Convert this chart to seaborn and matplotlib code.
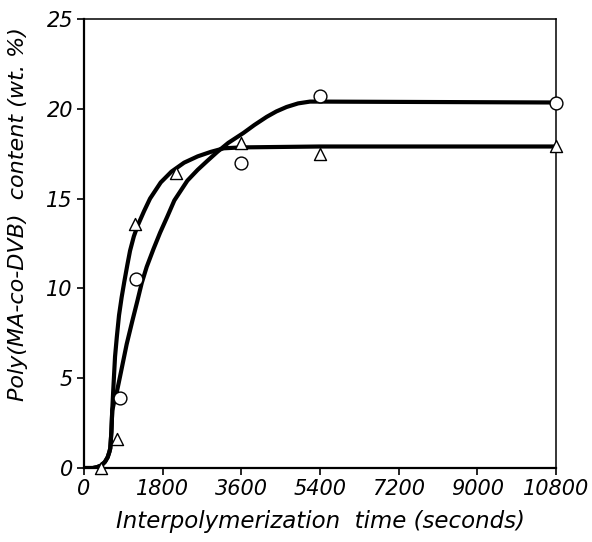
import numpy as np
import pandas as pd
import matplotlib
matplotlib.use("Agg")
import matplotlib.pyplot as plt
import seaborn as sns

tiempo_circ = [820, 1190, 3600, 5400, 10800]
valor_circ = [3.9, 10.5, 17.0, 20.7, 20.3]

tiempo_tri = [390, 760, 1170, 2100, 3600, 5400, 10800]
valor_tri = [0.0, 1.6, 13.6, 16.4, 18.1, 17.5, 17.9]

# Curvas ajustadas (trazadas a mano sobre la figura)
curva_tri_t = [0, 200, 300, 400, 480, 540, 580, 600, 625, 645, 665, 709, 750, 800,
               860, 923, 990, 1053, 1140, 1228, 1373, 1510, 1755, 2000, 2290,
               2600, 2900, 3200, 3600, 5400, 10800]
curva_tri_y = [0, 0, 0.05, 0.15, 0.35, 0.6, 0.9, 1.1, 2.0, 3.2, 4.2, 6.2, 7.3, 8.5,
               9.5, 10.4, 11.3, 12.1, 12.9, 13.5, 14.3, 15.0, 15.9, 16.5, 17.0,
               17.35, 17.6, 17.8, 17.85, 17.9, 17.9]

curva_circ_t = [0, 200, 300, 400, 480, 540, 580, 600, 625, 645, 700, 747, 824, 900,
                976, 1106, 1220, 1320, 1434, 1590, 1740, 1906, 2067, 2365, 2600,
                2822, 3050, 3300, 3646, 3900, 4180, 4400, 4636, 4900, 5172, 5400, 10800]
curva_circ_y = [0, 0, 0.05, 0.15, 0.35, 0.6, 0.9, 1.1, 2.0, 3.2, 3.8, 4.2, 5.1, 6.0,
                6.9, 8.2, 9.3, 10.3, 11.2, 12.2, 13.1, 14.0, 14.9, 16.0, 16.6,
                17.1, 17.6, 18.1, 18.65, 19.1, 19.55, 19.85, 20.1, 20.3, 20.4, 20.4, 20.35]

ticks_x = [0, 1800, 3600, 5400, 7200, 9000, 10800]
ticks_y = [0, 5, 10, 15, 20, 25]

sns.set_style("ticks")
plt.rcParams['font.family'] = ['DejaVu Sans']
plt.rcParams['text.color'] = 'black'
plt.rcParams['axes.labelcolor'] = 'black'

fig = plt.figure(figsize=(5.92, 5.42), dpi=100)
ax = fig.add_axes([0.142, 0.1365, 0.797, 0.8285])

df_tri = pd.DataFrame({'t': curva_tri_t, 'y': curva_tri_y})
df_circ = pd.DataFrame({'t': curva_circ_t, 'y': curva_circ_y})

sns.lineplot(data=df_tri, x='t', y='y', color='black', linewidth=3.0, ax=ax,
             sort=False, estimator=None, solid_capstyle='round', solid_joinstyle='round')
sns.lineplot(data=df_circ, x='t', y='y', color='black', linewidth=3.0, ax=ax,
             sort=False, estimator=None, solid_capstyle='round', solid_joinstyle='round')

sns.scatterplot(x=tiempo_circ, y=valor_circ, marker='o', s=85, facecolor='white',
                edgecolor='black', linewidth=1.0, ax=ax, clip_on=False, zorder=5)
sns.scatterplot(x=tiempo_tri, y=valor_tri, marker='^', s=75, facecolor='white',
                edgecolor='black', linewidth=1.0, ax=ax, clip_on=False, zorder=5)

ax.set_xlim(0, 10800)
ax.set_ylim(0, 25)
ax.set_xticks(ticks_x)
ax.set_yticks(ticks_y)
ax.set_xticklabels([str(v) for v in ticks_x], fontsize=15, style='italic')
ax.set_yticklabels([str(v) for v in ticks_y], fontsize=15, style='italic')
ax.tick_params(direction='out', length=5, width=1.2, colors='black', pad=3)

for lado in ['left', 'bottom']:
    ax.spines[lado].set_linewidth(1.6)
for lado in ['top', 'right']:
    ax.spines[lado].set_linewidth(1.1)
for lado in ax.spines:
    ax.spines[lado].set_color('black')

ax.set_xlabel("Interpolymerization  time (seconds)", fontsize=16.5, style='italic', labelpad=8)
ax.set_ylabel("Poly(MA-co-DVB)  content (wt. %)", fontsize=16, style='italic')
ax.yaxis.set_label_coords(-0.118, 0.565)

plt.savefig("out.png", dpi=100)
plt.close()
